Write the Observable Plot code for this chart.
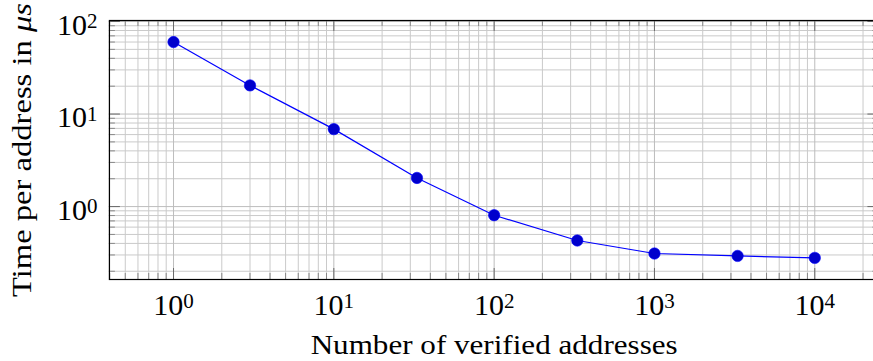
<!DOCTYPE html>
<html><head><meta charset="utf-8">
<script src="https://cdn.jsdelivr.net/npm/d3@7"></script>
<script src="https://cdn.jsdelivr.net/npm/@observablehq/plot@0.6"></script>
<style>
html,body{margin:0;padding:0;background:#fff}
#chart svg{display:block}
</style>
</head><body><div id="chart"></div>
<script>
// ---- data ----
const addresses = [1, 3, 10, 33, 100, 330, 1000, 3300, 10000];
const timePerAddress = [60.0, 20.4, 6.87, 2.04, 0.807, 0.430, 0.311, 0.293, 0.279];
const xTickValues = [1, 10, 100, 1000, 10000];
const yTickValues = [1, 10, 100];
const xLabel = "Number of verified addresses";
const yLabel = "Time per address in μs";

const data = addresses.map((x, i) => ({x, y: timePerAddress[i]}));

const W = 873, H = 361;
const mTop = 20, mBottom = 82, mLeft = 108.9, mRight = -5.4;
const xDomain = [Math.pow(10, -0.4), Math.pow(10, 4.4)];
const yDomain = [Math.pow(10, -0.788), Math.pow(10, 2.011)];

function minorTicks([lo, hi], majors) {
  const out = [];
  for (let e = Math.floor(Math.log10(lo)); e <= Math.ceil(Math.log10(hi)); e++) {
    for (let m = 1; m <= 9; m++) {
      const v = m * Math.pow(10, e);
      if (v >= lo && v <= hi && !majors.includes(v)) out.push(v);
    }
  }
  return out;
}
const xMinor = minorTicks(xDomain, xTickValues);
const yMinor = minorTicks(yDomain, yTickValues);
const plotH = H - mTop - mBottom;
const plotW = W - mLeft - mRight;
const fmt = d => "10^" + Math.round(Math.log10(d));
const font = "'Liberation Serif', 'Times New Roman', serif";

const chart = Plot.plot({
  width: W, height: H,
  marginTop: mTop, marginBottom: mBottom, marginLeft: mLeft, marginRight: mRight,
  style: {fontFamily: font, fontSize: "30px", color: "#000", background: "#fff"},
  x: {type: "log", domain: xDomain},
  y: {type: "log", domain: yDomain},
  marks: [
    // grid
    Plot.ruleX(xMinor, {x: d => d, stroke: "#cacaca", strokeWidth: 1}),
    Plot.ruleY(yMinor, {y: d => d, stroke: "#cacaca", strokeWidth: 1}),
    Plot.ruleX(xTickValues, {x: d => d, stroke: "#bdbdbd", strokeWidth: 1}),
    Plot.ruleY(yTickValues, {y: d => d, stroke: "#bdbdbd", strokeWidth: 1}),
    // inner tick marks (bottom / top)
    Plot.ruleX(xTickValues, {x: d => d, stroke: "#6a6a6a", insetTop: plotH - 11}),
    Plot.ruleX(xTickValues, {x: d => d, stroke: "#6a6a6a", insetBottom: plotH - 11}),
    Plot.ruleX(xMinor, {x: d => d, stroke: "#8a8a8a", insetTop: plotH - 6}),
    Plot.ruleX(xMinor, {x: d => d, stroke: "#8a8a8a", insetBottom: plotH - 6}),
    // inner tick marks (left / right)
    Plot.ruleY(yTickValues, {y: d => d, stroke: "#6a6a6a", insetRight: plotW - 11}),
    Plot.ruleY(yTickValues, {y: d => d, stroke: "#6a6a6a", insetLeft: plotW - 11}),
    Plot.ruleY(yMinor, {y: d => d, stroke: "#8a8a8a", insetRight: plotW - 6}),
    Plot.ruleY(yMinor, {y: d => d, stroke: "#8a8a8a", insetLeft: plotW - 6}),
    Plot.frame({stroke: "#000", strokeWidth: 1.2}),
    // axes
    Plot.axisX(xTickValues, {tickSize: 0, tickPadding: 14, tickFormat: fmt, label: null, fontSize: 30}),
    Plot.axisY(yTickValues, {tickSize: 0, tickPadding: 12, tickFormat: fmt, label: null, fontSize: 30, dy: 3.4}),
    // data
    Plot.line(data, {x: "x", y: "y", stroke: "#0000ff", strokeWidth: 1.2}),
    Plot.dot(data, {x: "x", y: "y", r: 5.7, fill: "#0000cc", stroke: "#0000ff", strokeWidth: 0.6}),
    // axis titles
    Plot.text([xLabel], {text: d => d, frameAnchor: "bottom", textAnchor: "middle", lineAnchor: "bottom", dy: 74.3, fontSize: 28, fill: "#000"}),
    Plot.text([yLabel], {text: d => d, frameAnchor: "left", textAnchor: "middle", lineAnchor: "middle", rotate: -90, dx: -87.4, fontSize: 28, fill: "#000"})
  ]
});

// superscripts, italic math text, label widths matching the reference
chart.querySelectorAll("text").forEach(t => {
  const m = /^10\^(-?\d+)$/.exec(t.textContent);
  if (m) {
    t.textContent = "10";
    const s = document.createElementNS("http://www.w3.org/2000/svg", "tspan");
    s.setAttribute("dy", "-0.31em");
    s.setAttribute("font-size", "0.7em");
    s.textContent = m[1];
    t.appendChild(s);
  } else if (t.textContent === yLabel) {
    t.textContent = "Time per address in ";
    const s = document.createElementNS("http://www.w3.org/2000/svg", "tspan");
    s.setAttribute("font-style", "italic");
    s.textContent = "μs";
    t.appendChild(s);
    t.setAttribute("textLength", "294");
    t.setAttribute("lengthAdjust", "spacingAndGlyphs");
  } else if (t.textContent === xLabel) {
    t.setAttribute("textLength", "367");
    t.setAttribute("lengthAdjust", "spacingAndGlyphs");
  }
});
document.getElementById("chart").appendChild(chart);
</script>
</body></html>
